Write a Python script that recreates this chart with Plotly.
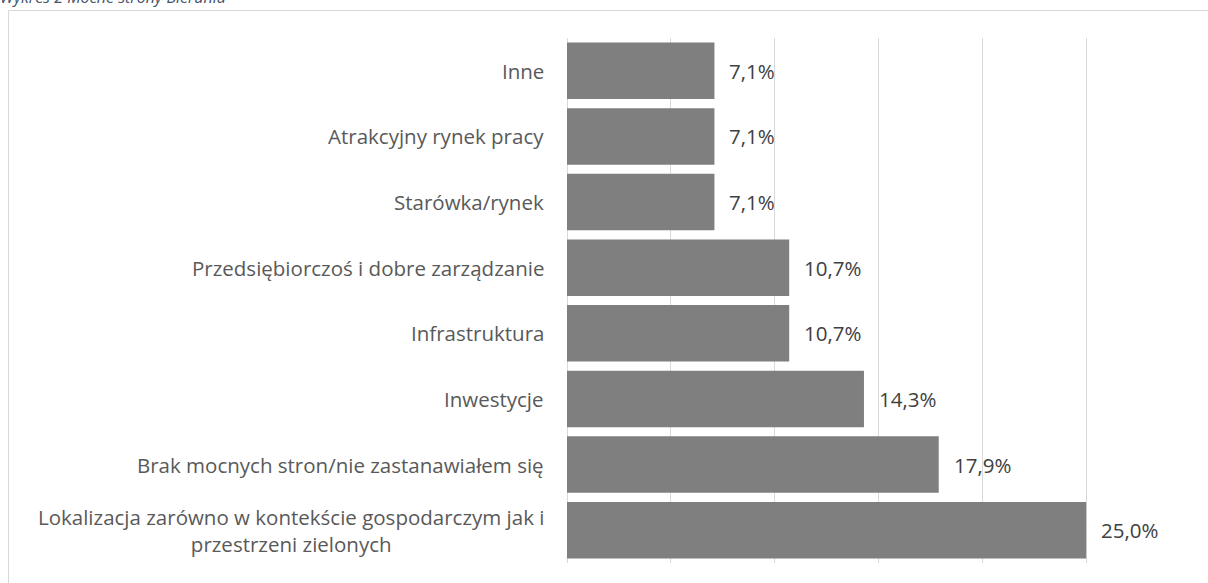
import plotly.graph_objects as go

categories = [
    "Inne",
    "Atrakcyjny rynek pracy",
    "Starówka/rynek",
    "Przedsiębiorczoś i dobre zarządzanie",
    "Infrastruktura",
    "Inwestycje",
    "Brak mocnych stron/nie zastanawiałem się",
    "Lokalizacja zarówno w kontekście gospodarczym jak i<br>przestrzeni zielonych",
]
values = [7.1, 7.1, 7.1, 10.7, 10.7, 14.3, 17.9, 25.0]
value_labels = ["7,1%", "7,1%", "7,1%", "10,7%", "10,7%", "14,3%", "17,9%", "25,0%"]
title_text = "Wykres 2 Mocne strony Bierunia"

W, H = 1208, 583
L, R, T, B = 567, 18, 38, 20
pw, ph = W - L - R, H - T - B

def px_x(p):
    return (p - L) / pw

def px_y(p):
    return 1 + (T - p) / ph

FONT = "Open Sans"
FS = 20.5
fig = go.Figure()
fig.add_trace(go.Bar(
    y=list(range(len(categories))),
    x=values,
    orientation="h",
    marker=dict(color="#7F7F7F", line=dict(width=0)),
    width=0.86,
    hoverinfo="skip",
))

annotations = []
for i, (c, v, t) in enumerate(zip(categories, values, value_labels)):
    annotations.append(dict(
        x=v, y=i, xref="x", yref="y", text=t, showarrow=False,
        xanchor="left", yanchor="middle", xshift=13,
        font=dict(family=FONT, size=FS, color="#404040"),
    ))
    annotations.append(dict(
        x=px_x(546), y=i, xref="paper", yref="y", text=c, showarrow=False,
        xanchor="right", yanchor="middle", align="center",
        font=dict(family=FONT, size=FS, color="#595959"),
    ))
annotations.append(dict(
    x=px_x(-2), y=px_y(-3), xref="paper", yref="paper", text="<i>" + title_text + "</i>",
    showarrow=False, xanchor="left", yanchor="middle",
    font=dict(family=FONT, size=16, color="#44546A"),
))

fig.update_layout(
    width=W, height=H,
    margin=dict(l=L, r=R, t=T, b=B, pad=0),
    paper_bgcolor="white", plot_bgcolor="white",
    showlegend=False,
    annotations=annotations,
    shapes=[dict(
        type="rect", xref="paper", yref="paper",
        x0=px_x(8.5), x1=px_x(1230), y0=px_y(600), y1=px_y(10.5),
        line=dict(color="#D9D9D9", width=1), layer="below",
    )],
    xaxis=dict(
        range=[0, 30], dtick=5, showgrid=True, gridcolor="#D9D9D9", gridwidth=1,
        showticklabels=False, zeroline=True, zerolinecolor="#D9D9D9", zerolinewidth=1,
        showline=False, fixedrange=True,
    ),
    yaxis=dict(
        range=[len(categories) - 0.5, -0.5], showticklabels=False, showgrid=False,
        zeroline=False, showline=False, fixedrange=True,
    ),
)
fig.write_html(
    "out.html",
    config={"displayModeBar": False},
    post_script="document.body.style.margin='0';document.body.style.overflow='hidden';",
)
